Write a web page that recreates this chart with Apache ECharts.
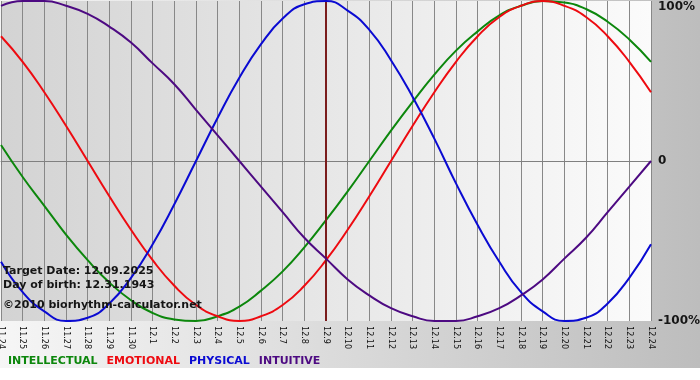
<!DOCTYPE html>
<html>
<head>
<meta charset="utf-8">
<script src="https://cdn.jsdelivr.net/npm/echarts@6/dist/echarts.min.js"></script>
<style>
  html, body { margin: 0; padding: 0; background: #ffffff; }
  #chart { width: 700px; height: 368px; }
</style>
</head>
<body>
<div id="chart"></div>
<script>
// ---- data ----
const dates = ['11.24','11.25','11.26','11.27','11.28','11.29','11.30',
  '12.1','12.2','12.3','12.4','12.5','12.6','12.7','12.8','12.9','12.10',
  '12.11','12.12','12.13','12.14','12.15','12.16','12.17','12.18','12.19',
  '12.20','12.21','12.22','12.23','12.24'];

const intellectual = [10,-10,-28,-46,-62,-76,-87,-95,-99,-100,-97,-91,-81,-69,-54,-37,-19,0,19,37,54,69,81,91,97,100,99,95,87,76,62];
const emotional    = [78,62,43,22,0,-22,-43,-62,-78,-90,-97,-100,-97,-90,-78,-62,-43,-22,0,22,43,62,78,90,97,100,97,90,78,62,43];
const physical     = [-63,-82,-94,-100,-98,-89,-73,-52,-27,0,27,52,73,89,98,100,94,82,63,40,14,-14,-40,-63,-82,-94,-100,-98,-89,-73,-52];
const intuitive    = [97,100,100,97,92,84,74,61,48,32,16,0,-16,-32,-48,-61,-74,-84,-92,-97,-100,-100,-97,-92,-84,-74,-61,-48,-32,-16,0];

const yTicks = [-100, 0, 100];
const targetDay = '12.9';
const targetDateText = 'Target Date: 12.09.2025';
const birthDateText = 'Day of birth: 12.31.1943';
const copyrightText = '\u00a92010 biorhythm-calculator.net';

const seriesNames = ['INTELLECTUAL', 'EMOTIONAL', 'PHYSICAL', 'INTUITIVE'];
const seriesColors = ['#0c870c', '#ee0a10', '#0a0ad2', '#4d0a82'];
const seriesData = [intellectual, emotional, physical, intuitive];

// ---- chart ----
const chart = echarts.init(document.getElementById('chart'), null, { renderer: 'canvas' });
const boldFont = "'DejaVu Sans', Verdana, sans-serif";

const series = seriesNames.map((name, idx) => {
  const s = {
    name: name,
    type: 'line',
    data: seriesData[idx],
    smooth: true,
    symbol: 'none',
    lineStyle: { color: seriesColors[idx], width: 2 },
    itemStyle: { color: seriesColors[idx] },
    emphasis: { disabled: true },
    z: 3 + idx
  };
  if (idx === 0) {
    s.markLine = {
      silent: true,
      symbol: ['none', 'none'],
      label: { show: false },
      emphasis: { disabled: true },
      lineStyle: { color: '#7a1c1c', width: 2, type: 'solid' },
      data: [{ xAxis: targetDay }]
    };
  }
  return s;
});

const option = {
  animation: false,
  backgroundColor: {
    type: 'linear', x: 0, y: 0, x2: 1, y2: 0,
    colorStops: [{ offset: 0, color: '#f6f6f6' }, { offset: 1, color: '#bdbdbd' }]
  },
  grid: {
    left: 1, right: 49, top: 1, bottom: 47,
    outerBoundsMode: 'none',
    containLabel: false,
    show: true,
    borderWidth: 0,
    backgroundColor: {
      type: 'linear', x: 0, y: 0, x2: 1, y2: 0,
      colorStops: [{ offset: 0, color: '#d3d3d3' }, { offset: 1, color: '#fbfbfb' }]
    }
  },
  legend: {
    left: 3, top: 354,
    padding: 0,
    icon: 'none',
    itemWidth: 0, itemHeight: 14, itemGap: 4,
    selectedMode: false,
    textStyle: { fontFamily: boldFont, fontWeight: 'bold', fontSize: 11 },
    data: seriesNames.map((n, i) => ({ name: n, textStyle: { color: seriesColors[i] } }))
  },
  xAxis: {
    type: 'category',
    data: dates,
    boundaryGap: false,
    axisLine: { show: true, lineStyle: { color: '#808080', width: 1 } },
    axisTick: { show: true, interval: 0, length: 4, lineStyle: { color: '#808080' } },
    splitLine: { show: true, interval: 0, lineStyle: { color: '#888888', width: 1 } },
    axisLabel: {
      interval: 0, rotate: -90, margin: 5,
      fontFamily: "'DejaVu Sans Condensed', 'DejaVu Sans', sans-serif",
      fontSize: 9, color: '#111111'
    }
  },
  yAxis: {
    type: 'value',
    position: 'right',
    min: yTicks[0], max: yTicks[2], interval: 100,
    axisLine: { show: false },
    axisTick: { show: false },
    splitLine: { show: true, lineStyle: { color: ['rgba(0,0,0,0)', '#808080', 'rgba(0,0,0,0)'], width: 1 } },
    axisLabel: {
      margin: 7,
      fontFamily: boldFont, fontWeight: 'bold', fontSize: 12, color: '#151515',
      formatter: function (v) {
        if (v === 0) return '0';
        if (v === yTicks[2]) return '{t|' + v + '%}';
        return v + '%';
      },
      rich: {
        t: { fontFamily: boldFont, fontWeight: 'bold', fontSize: 12, color: '#151515', padding: [12, 0, 0, 0] }
      }
    }
  },
  graphic: [
    { type: 'text', left: 3, top: 266, z: 100, silent: true,
      style: { text: targetDateText, font: "bold 11px 'DejaVu Sans'", fill: '#151515' } },
    { type: 'text', left: 3, top: 280, z: 100, silent: true,
      style: { text: birthDateText, font: "bold 11px 'DejaVu Sans'", fill: '#151515' } },
    { type: 'text', left: 3, top: 300, z: 100, silent: true,
      style: { text: copyrightText, font: "bold 11px 'DejaVu Sans'", fill: '#151515' } }
  ],
  series: series
};

chart.setOption(option);
</script>
</body>
</html>
